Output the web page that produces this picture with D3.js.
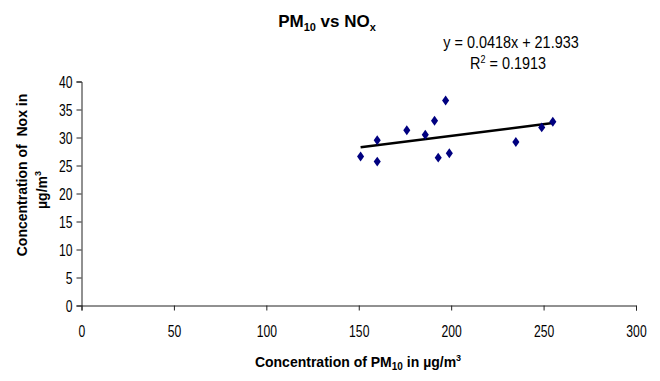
<!DOCTYPE html>
<html>
<head>
<meta charset="utf-8">
<script src="https://cdn.jsdelivr.net/npm/d3@7"></script>
<style>
  html, body { margin: 0; padding: 0; background: #fff; }
  svg { display: block; font-family: Arial, "Liberation Sans", sans-serif; }
</style>
</head>
<body>
<svg id="chart" width="660" height="381"></svg>
<script>
// PM10 vs NOx scatter with a linear trendline, Excel 2003 style.

const pm10 = [151, 160, 160, 176, 186, 191, 193, 197, 199, 235, 249, 255];
const nox = [26.6, 29.5, 25.7, 31.3, 30.5, 33.0, 26.4, 36.6, 27.2, 29.2, 31.8, 32.8];
const xTicks = [0, 50, 100, 150, 200, 250, 300];
const yTicks = [0, 5, 10, 15, 20, 25, 30, 35, 40];
const trendSlope = 0.0418;
const trendIntercept = 21.933;
const equationText = 'y = 0.0418x + 21.933';
const r2Value = '0.1913';

const points = pm10.map((x, i) => ({ x, y: nox[i] }));

const svg = d3.select('#chart');
const x = d3.scaleLinear().domain([0, 300]).range([81.5, 636]);
const y = d3.scaleLinear().domain([0, 40]).range([305.5, 81.5]);

// the reference text is rendered narrower than Arial, squeeze it
function squeeze(sel, k) {
    sel.each(function () {
        const w = this.getComputedTextLength();
        d3.select(this).attr('textLength', w * k).attr('lengthAdjust', 'spacingAndGlyphs');
    });
}

// ---- axes ----
const gx = svg.append('g').attr('transform', `translate(0,${y(0)})`)
    .call(d3.axisBottom(x).tickValues(xTicks).tickSize(5).tickPadding(15));
const gy = svg.append('g').attr('transform', `translate(${x(0)},0)`)
    .call(d3.axisLeft(y).tickValues(yTicks).tickSize(5).tickPadding(4));

[gx, gy].forEach((g) => {
    g.selectAll('path.domain').attr('stroke', '#222').attr('stroke-width', 1);
    g.selectAll('.tick line').attr('stroke', '#222');
    g.selectAll('.tick text')
        .attr('fill', '#000')
        .style('font-size', '16px')
        .style('font-family', 'Arial, "Liberation Sans", sans-serif');
});
gy.selectAll('.tick text').attr('dy', '0.36em');
squeeze(gx.selectAll('.tick text'), 0.76);
squeeze(gy.selectAll('.tick text'), 0.76);

// ---- trendline ----
const xExtent = d3.extent(pm10);
const trend = xExtent.map((v) => ({ x: v, y: trendSlope * v + trendIntercept }));
svg.append('path')
    .datum(trend)
    .attr('fill', 'none')
    .attr('stroke', '#000')
    .attr('stroke-width', 2.5)
    .attr('d', d3.line().x((d) => x(d.x)).y((d) => y(d.y)));

// ---- points: Excel's tall navy diamond ----
const tallDiamond = {
    draw(ctx, size) {
        const r = Math.sqrt(size) / 2;
        ctx.moveTo(0, -r * 1.4);
        ctx.lineTo(r, 0);
        ctx.lineTo(0, r * 1.4);
        ctx.lineTo(-r, 0);
        ctx.closePath();
    },
};
svg.append('g').selectAll('path').data(points).join('path')
    .attr('transform', (d) => `translate(${x(d.x)},${y(d.y)})`)
    .attr('d', d3.symbol().type(tallDiamond).size(50))
    .attr('fill', '#000080');

// ---- title ----
const title = svg.append('text')
    .attr('x', 327).attr('y', 27)
    .attr('text-anchor', 'middle')
    .style('font-size', '17px').style('font-weight', 'bold');
title.append('tspan').text('PM');
title.append('tspan').attr('dy', 4).style('font-size', '11px').text('10');
title.append('tspan').attr('dy', -4).text(' vs NO');
title.append('tspan').attr('dy', 4).style('font-size', '11px').text('x');

// ---- trendline equation ----
const eq = svg.append('text')
    .attr('x', 511).attr('y', 48)
    .attr('text-anchor', 'middle')
    .style('font-size', '16px')
    .text(equationText);
squeeze(eq, 0.9);
const r2 = svg.append('text')
    .attr('x', 508).attr('y', 68.5)
    .attr('text-anchor', 'middle')
    .style('font-size', '16px');
r2.append('tspan').text('R');
r2.append('tspan').attr('dy', -6).style('font-size', '10px').text('2');
r2.append('tspan').attr('dy', 6).text(` = ${r2Value}`);
squeeze(r2, 0.9);

// ---- axis titles ----
const xt = svg.append('text')
    .attr('x', 358).attr('y', 367)
    .attr('text-anchor', 'middle')
    .style('font-size', '14px').style('font-weight', 'bold');
xt.append('tspan').text('Concentration of PM');
xt.append('tspan').attr('dy', 3).style('font-size', '10px').text('10');
xt.append('tspan').attr('dy', -3).text(' in µg/m');
xt.append('tspan').attr('dy', -6).style('font-size', '9px').text('3');

svg.append('text')
    .attr('transform', 'translate(27,175) rotate(-90)')
    .attr('text-anchor', 'middle')
    .style('font-size', '14px').style('font-weight', 'bold')
    .style('white-space', 'pre')
    .text('Concentration of  Nox in');
const yt2 = svg.append('text')
    .attr('transform', 'translate(47,190) rotate(-90)')
    .attr('text-anchor', 'middle')
    .style('font-size', '14px').style('font-weight', 'bold');
yt2.append('tspan').text('µg/m');
yt2.append('tspan').attr('dy', -6).style('font-size', '9px').text('3');
</script>
</body>
</html>
